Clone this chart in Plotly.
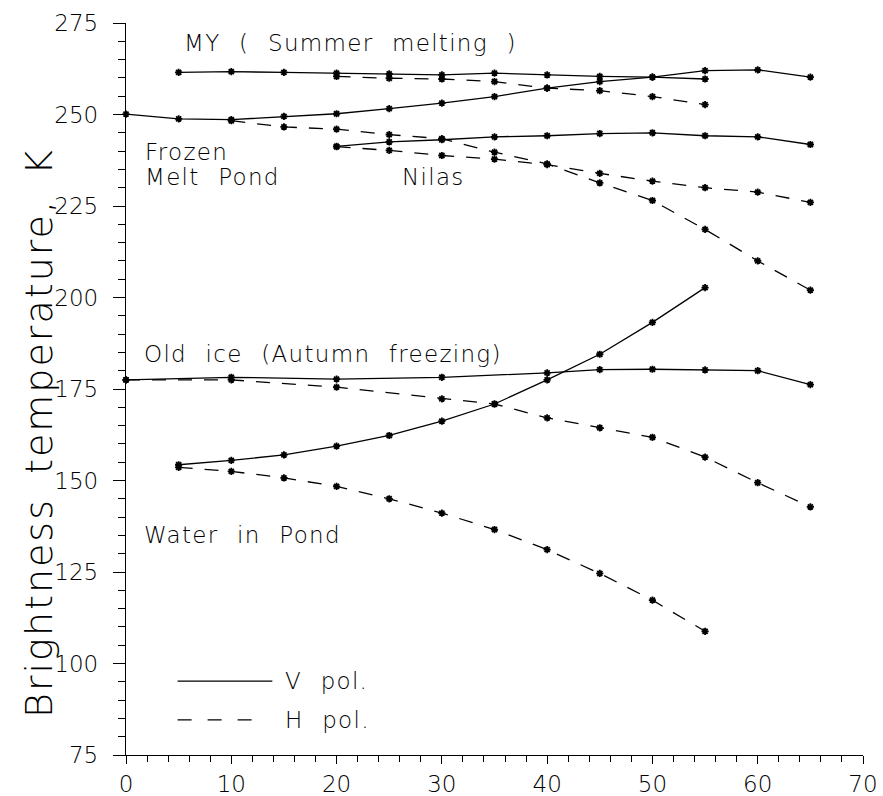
import plotly.graph_objects as go

# Incidence angle (deg) and brightness temperature (K) for each surface type
my_v_angle = [5, 10, 15, 20, 25, 30, 35, 40, 45, 50, 55]
my_v_tb = [261.5, 261.7, 261.5, 261.3, 261.1, 260.8, 261.3, 260.8, 260.4, 260.2, 259.7]
my_h_angle = [20, 25, 30, 35, 40, 45, 50, 55]
my_h_tb = [260.4, 259.9, 259.7, 259.0, 257.2, 256.5, 254.9, 252.7]

fmp_v_angle = [0, 5, 10, 15, 20, 25, 30, 35, 40, 45, 50, 55, 60, 65]
fmp_v_tb = [250.1, 248.8, 248.6, 249.5, 250.2, 251.6, 253.1, 254.9, 257.2, 259.0, 260.2, 262.0, 262.2, 260.2]
fmp_h_angle = [10, 15, 20, 25, 30, 35, 40, 45, 50, 55, 60, 65]
fmp_h_tb = [248.3, 246.6, 246.0, 244.5, 243.4, 239.7, 236.5, 231.3, 226.5, 218.6, 210.0, 202.0]

nilas_angle = [20, 25, 30, 35, 40, 45, 50, 55, 60, 65]
nilas_v_tb = [241.3, 242.5, 243.1, 243.9, 244.2, 244.8, 245.0, 244.2, 243.9, 241.8]
nilas_h_tb = [241.2, 240.2, 238.8, 237.8, 236.3, 233.9, 231.8, 230.0, 228.8, 226.0]

old_v_angle = [0, 10, 20, 30, 40, 45, 50, 55, 60, 65]
old_v_tb = [177.5, 178.2, 177.7, 178.2, 179.4, 180.3, 180.4, 180.2, 180.0, 176.2]
old_h_angle = [0, 10, 20, 30, 35, 40, 45, 50, 55, 60, 65]
old_h_tb = [177.5, 177.5, 175.5, 172.3, 170.9, 167.1, 164.4, 161.8, 156.4, 149.4, 142.8]

water_angle = [5, 10, 15, 20, 25, 30, 35, 40, 45, 50, 55]
water_v_tb = [154.3, 155.5, 157.0, 159.4, 162.3, 166.2, 170.9, 177.5, 184.5, 193.2, 202.7]
water_h_tb = [153.6, 152.5, 150.7, 148.4, 145.0, 141.1, 136.6, 131.1, 124.6, 117.3, 108.8]

y_ticks = [75, 100, 125, 150, 175, 200, 225, 250, 275]
x_ticks = [0, 10, 20, 30, 40, 50, 60, 70]

FONT = "DejaVu Sans"
WEIGHT = 200
DASH = "14px,12px"


def spaced(text, letter=1.3, word=10):
    """Wrap text in a span with wider letter and word spacing."""
    return f'<span style="letter-spacing:{letter}px;word-spacing:{word}px">{text}</span>'


series = [
    (my_v_angle, my_v_tb, "solid"),
    (my_h_angle, my_h_tb, DASH),
    (fmp_v_angle, fmp_v_tb, "solid"),
    (fmp_h_angle, fmp_h_tb, DASH),
    (nilas_angle, nilas_v_tb, "solid"),
    (nilas_angle, nilas_h_tb, DASH),
    (old_v_angle, old_v_tb, "solid"),
    (old_h_angle, old_h_tb, DASH),
    (water_angle, water_v_tb, "solid"),
    (water_angle, water_h_tb, DASH),
]

fig = go.Figure()
for xs, ys, dash in series:
    fig.add_trace(go.Scatter(
        x=xs, y=ys, mode="lines+markers",
        line=dict(color="black", width=1.3, dash=dash),
        marker=dict(symbol="asterisk-open", size=6, color="black",
                    line=dict(color="black", width=1.8)),
        cliponaxis=False, showlegend=False, hoverinfo="skip",
    ))

labels = [
    ("MY ( Summer melting )", 5.3, 269.5),
    ("Frozen", 1.6, 239.8),
    ("Melt Pond", 1.6, 232.8),
    ("Nilas", 26.0, 232.8),
    ("Old ice (Autumn freezing)", 1.5, 184.5),
    ("Water in Pond", 1.5, 135.0),
    ("V pol.", 14.9, 95.2),
    ("H pol.", 14.9, 84.6),
]
for text, x, y in labels:
    fig.add_annotation(x=x, y=y, text=spaced(text), showarrow=False, xanchor="left",
                       yanchor="middle", align="left",
                       font=dict(family=FONT, size=23, color="black", weight=WEIGHT))

# Axis title, set a little below the axis centre
fig.add_annotation(xref="paper", yref="paper", x=-0.118, y=0.44,
                   text=spaced("Brightness temperature, K", letter=2, word=10),
                   textangle=-90, showarrow=False, xanchor="center", yanchor="middle",
                   font=dict(family=FONT, size=38, color="black", weight=WEIGHT))

# Polarisation key
fig.add_shape(type="line", x0=4.9, x1=13.9, y0=95.2, y1=95.2,
              line=dict(color="black", width=1.3))
fig.add_shape(type="line", x0=4.9, x1=12.0, y0=84.6, y1=84.6,
              line=dict(color="black", width=1.3, dash="14px,16px"))

axis_common = dict(
    showgrid=False, zeroline=False, showline=True, linecolor="black", linewidth=1.3,
    ticks="outside", tickcolor="black", tickwidth=1.2,
    tickfont=dict(family=FONT, size=23, color="black", weight=WEIGHT),
)
fig.update_xaxes(range=[0, 70], tickvals=x_ticks, ticklen=8, ticklabelstandoff=0,
                 minor=dict(dtick=2, ticks="outside", ticklen=6, tickcolor="black", tickwidth=1.1),
                 **axis_common)
fig.update_yaxes(range=[75, 275], tickvals=y_ticks, ticklen=12, ticklabelstandoff=10,
                 minor=dict(dtick=5, ticks="outside", ticklen=7, tickcolor="black", tickwidth=1.1),
                 **axis_common)

fig.update_layout(
    width=883, height=796,
    margin=dict(l=126, r=20, t=23, b=41, autoexpand=False),
    plot_bgcolor="white", paper_bgcolor="white",
)

fig.write_html("out.html")
